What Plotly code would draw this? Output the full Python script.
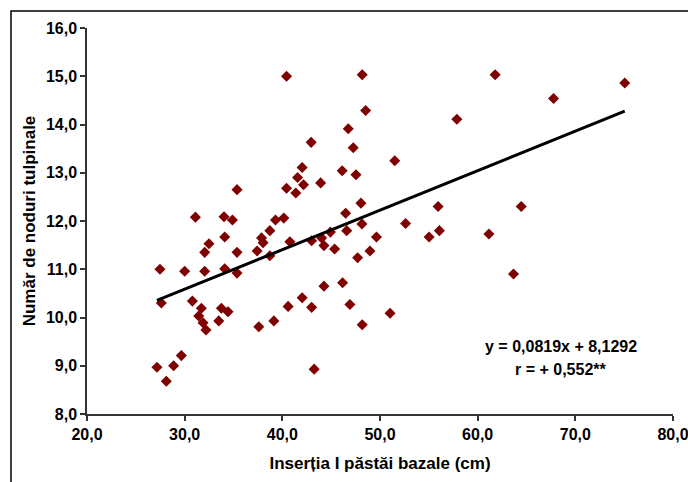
import plotly.graph_objects as go

# Data
insertia_cm = [27.16, 28.12, 28.87, 29.66, 27.47, 27.61, 30.0, 30.79, 31.10, 31.44,
               31.71, 31.88, 32.18, 32.05, 32.05, 32.49, 33.49, 33.76, 34.03, 34.10,
               34.10, 34.44, 34.89, 35.36, 35.36, 35.36, 37.42, 37.59, 37.87, 38.03,
               38.72, 38.72, 39.13, 39.30, 40.15, 40.43, 40.43, 40.59, 40.77, 41.38,
               41.56, 42.03, 42.17, 42.03, 42.95, 43.0, 43.0, 43.26, 43.92, 44.02,
               44.26, 44.26, 44.92, 45.35, 46.13, 46.17, 46.48, 46.59, 46.75, 46.92,
               47.26, 47.54, 47.71, 48.05, 48.15, 48.18, 48.18, 48.53, 48.97, 49.64,
               51.03, 51.51, 52.62, 55.03, 55.95, 56.08, 57.87, 61.15, 61.79, 63.67,
               64.46, 67.77, 75.06]
noduri = [8.97, 8.68, 9.00, 9.21, 11.00, 10.30, 10.96, 10.34, 12.08, 10.03,
          10.19, 9.89, 9.74, 11.35, 10.96, 11.53, 9.93, 10.19, 12.09, 11.67,
          11.01, 10.12, 12.02, 12.65, 11.35, 10.92, 11.38, 9.81, 11.65, 11.55,
          11.80, 11.28, 9.93, 12.02, 12.06, 15.00, 12.68, 10.23, 11.57, 12.58,
          12.90, 13.11, 12.75, 10.41, 13.63, 11.59, 10.21, 8.93, 12.79, 11.65,
          11.49, 10.65, 11.77, 11.42, 13.04, 10.72, 12.16, 11.80, 13.91, 10.27,
          13.52, 12.96, 11.24, 12.37, 11.94, 15.03, 9.85, 14.29, 11.38, 11.67,
          10.09, 13.25, 11.95, 11.67, 12.30, 11.80, 14.11, 11.73, 15.03, 10.90,
          12.30, 14.54, 14.86]

slope = 0.0819
intercept = 8.1292
eq_text = "y = 0,0819x + 8,1292"
r_text = "r = + 0,552**"

x_title = "Inserția I păstăi bazale (cm)"
y_title = "Număr de noduri tulpinale"

xmin, xmax = min(insertia_cm), max(insertia_cm)
trend_x = [xmin, xmax]
trend_y = [slope * v + intercept for v in trend_x]

font_family = "Liberation Sans, Arial, sans-serif"

fig = go.Figure()
fig.add_trace(go.Scatter(
    x=insertia_cm, y=noduri, mode="markers",
    marker=dict(symbol="diamond", size=8.5, color="#800000",
                line=dict(width=0)),
    showlegend=False, cliponaxis=False))
fig.add_trace(go.Scatter(
    x=trend_x, y=trend_y, mode="lines",
    line=dict(color="black", width=3),
    showlegend=False))

W, H = 688, 482
ml, mr, mt, mb = 87, 15, 28, 68
pw, ph = W - ml - mr, H - mt - mb

def px2paper_x(p):
    return (p - ml) / pw

def px2paper_y(p):
    return (H - mb - p) / ph

tick_font = dict(family=font_family, size=16, weight="bold", color="black")
title_font = dict(family=font_family, size=17, weight="bold", color="black")
ann_font = dict(family=font_family, size=16, weight="bold", color="black")

fig.update_layout(
    width=W, height=H,
    margin=dict(l=ml, r=mr, t=mt, b=mb, pad=0, autoexpand=False),
    paper_bgcolor="white", plot_bgcolor="white",
    separators=", ",
    font=dict(family=font_family, size=16, color="black", weight="bold"),
    xaxis=dict(range=[20, 80], dtick=10, tick0=20, tickformat=".1f",
               automargin=False, ticklabeloverflow="allow",
               showgrid=False, zeroline=False,
               showline=True, linecolor="#333333", linewidth=2,
               ticks="outside", ticklen=5, tickwidth=1.5, tickcolor="#333333",
               tickfont=tick_font,
               title=dict(text=x_title, standoff=15, font=title_font)),
    yaxis=dict(range=[8, 16], dtick=1, tick0=8, tickformat=".1f",
               automargin=False, ticklabeloverflow="allow",
               showgrid=False, zeroline=False,
               showline=True, linecolor="#333333", linewidth=1.5,
               ticks="outside", ticklen=5, tickwidth=1.5, tickcolor="#333333",
               tickfont=tick_font,
               title=dict(text=y_title, standoff=6, font=title_font)),
    annotations=[
        dict(text=eq_text, xref="paper", yref="paper",
             x=px2paper_x(561), y=px2paper_y(346), showarrow=False,
             xanchor="center", yanchor="middle", font=ann_font),
        dict(text=r_text, xref="paper", yref="paper",
             x=px2paper_x(561), y=px2paper_y(369), showarrow=False,
             xanchor="center", yanchor="middle", font=ann_font),
    ],
    shapes=[
        dict(type="rect", xref="paper", yref="paper",
             x0=px2paper_x(11), x1=px2paper_x(710),
             y0=px2paper_y(500), y1=px2paper_y(11),
             line=dict(color="black", width=1.5), fillcolor="rgba(0,0,0,0)",
             layer="below"),
    ],
)

fig.write_html("out.html")
